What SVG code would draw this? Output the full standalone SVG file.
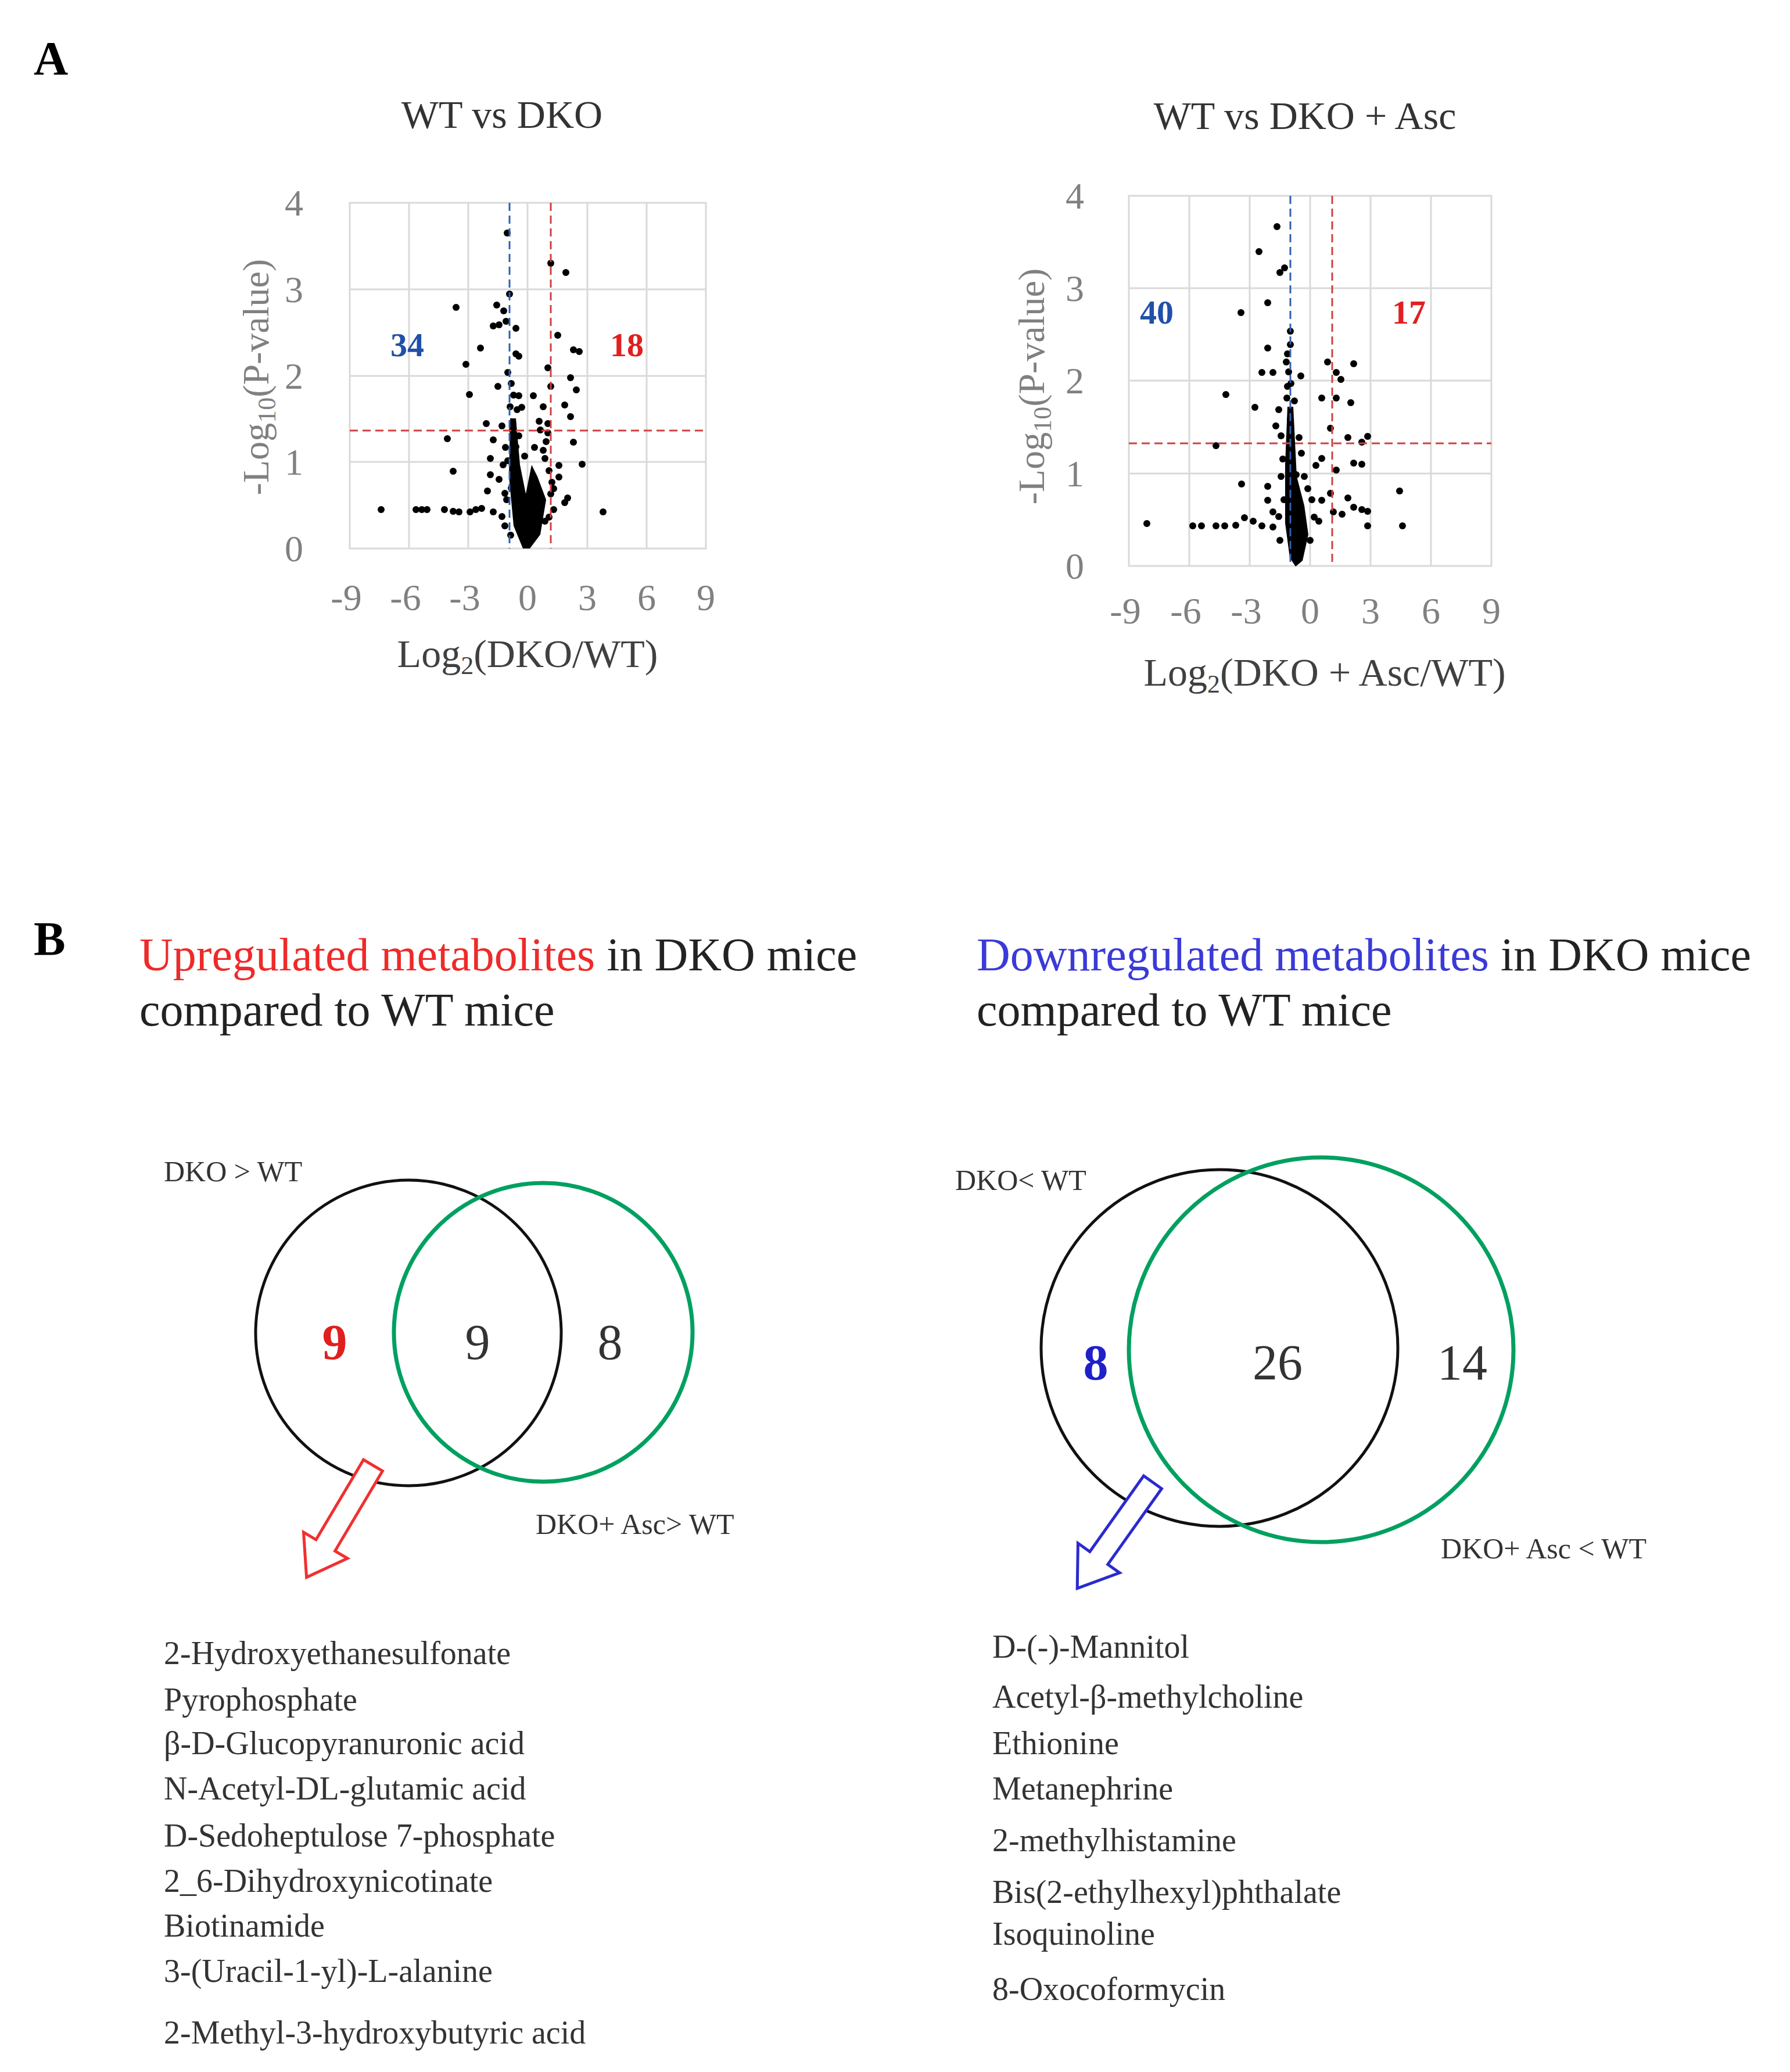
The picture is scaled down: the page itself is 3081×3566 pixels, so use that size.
<svg xmlns="http://www.w3.org/2000/svg" width="3081" height="3566" viewBox="0 0 3081 3566">
<style>
text{font-family:"Liberation Serif","Times New Roman",serif;}
.lab{font-weight:bold;font-size:82px;fill:#000}
.ttl{font-size:68px;fill:#333}
.tick{font-size:64px;fill:#808080}
.ytl{font-size:64px;fill:#808080}
.xtl{font-size:68px;fill:#404040}
.grid{stroke:#d9d9d9;stroke-width:3;fill:none}
.dash-b{stroke:#3060b0;stroke-width:3;stroke-dasharray:14 8}
.dash-r{stroke:#d04040;stroke-width:3;stroke-dasharray:14 8}
.pt{fill:#000}
.cnt{font-weight:bold;font-size:58px}
.head{font-size:80px;fill:#222}
.vl{font-size:50px;fill:#333}
.vn{font-size:86px;fill:#333}
.vn.red{fill:#e02020;font-weight:bold}
.vn.blue{fill:#2020c8;font-weight:bold}
.li{font-size:56px;fill:#333}
</style>
<defs><circle id="d" r="6"/></defs>
<rect width="3081" height="3566" fill="#fff"/>
<text class="lab" x="58" y="128">A</text>
<text class="lab" x="58" y="1643">B</text>

<g id="plot1">
<text class="ttl" x="864" y="220" text-anchor="middle">WT vs DKO</text>
<g class="grid">
<rect x="602" y="349" width="613" height="595"/>
<path d="M704,349V944M806,349V944M908,349V944M1011,349V944M1113,349V944M602,498H1215M602,647H1215M602,795H1215"/>
</g>
<g class="tick" text-anchor="end">
<text x="522" y="371">4</text><text x="522" y="520">3</text><text x="522" y="669">2</text><text x="522" y="817">1</text><text x="522" y="966">0</text>
</g>
<g class="tick" text-anchor="middle">
<text x="596" y="1050">-9</text><text x="698" y="1050">-6</text><text x="800" y="1050">-3</text><text x="908" y="1050">0</text><text x="1011" y="1050">3</text><text x="1113" y="1050">6</text><text x="1215" y="1050">9</text>
</g>
<text class="xtl" x="908" y="1148" text-anchor="middle">Log<tspan font-size="44" dy="12">2</tspan><tspan dy="-12">(DKO/WT)</tspan></text>
<text class="ytl" transform="translate(462,649) rotate(-90)" text-anchor="middle">-Log<tspan font-size="44" dy="12">10</tspan><tspan dy="-12">(P-value)</tspan></text>
<path class="pt" d="M878,720 L888,720 L895,800 L905,850 L915,800 L925,820 L940,860 L930,920 L912,944 L900,944 L884,905 L876,820 Z"/>
<g class="pt">
<use href="#d" x="873" y="401"/><use href="#d" x="948" y="453"/><use href="#d" x="974" y="469"/><use href="#d" x="785" y="529"/><use href="#d" x="877" y="506"/><use href="#d" x="855" y="525"/><use href="#d" x="867" y="535"/><use href="#d" x="871" y="553"/><use href="#d" x="849" y="561"/><use href="#d" x="859" y="559"/><use href="#d" x="888" y="565"/><use href="#d" x="960" y="577"/><use href="#d" x="827" y="599"/><use href="#d" x="888" y="609"/><use href="#d" x="987" y="602"/><use href="#d" x="997" y="605"/><use href="#d" x="802" y="627"/><use href="#d" x="893" y="613"/><use href="#d" x="943" y="633"/><use href="#d" x="874" y="641"/><use href="#d" x="982" y="650"/><use href="#d" x="948" y="665"/><use href="#d" x="808" y="679"/><use href="#d" x="857" y="665"/><use href="#d" x="893" y="681"/><use href="#d" x="918" y="681"/><use href="#d" x="992" y="671"/><use href="#d" x="898" y="701"/><use href="#d" x="972" y="697"/><use href="#d" x="982" y="717"/><use href="#d" x="837" y="729"/><use href="#d" x="864" y="733"/><use href="#d" x="928" y="725"/><use href="#d" x="943" y="729"/><use href="#d" x="770" y="755"/><use href="#d" x="849" y="757"/><use href="#d" x="943" y="745"/><use href="#d" x="888" y="769"/><use href="#d" x="987" y="761"/><use href="#d" x="844" y="789"/><use href="#d" x="874" y="793"/><use href="#d" x="938" y="789"/><use href="#d" x="962" y="801"/><use href="#d" x="1002" y="799"/><use href="#d" x="780" y="811"/><use href="#d" x="844" y="817"/><use href="#d" x="859" y="825"/><use href="#d" x="962" y="821"/><use href="#d" x="839" y="845"/><use href="#d" x="869" y="849"/><use href="#d" x="953" y="841"/><use href="#d" x="977" y="857"/><use href="#d" x="972" y="865"/><use href="#d" x="656" y="877"/><use href="#d" x="716" y="877"/><use href="#d" x="726" y="877"/><use href="#d" x="735" y="877"/><use href="#d" x="765" y="877"/><use href="#d" x="780" y="880"/><use href="#d" x="790" y="881"/><use href="#d" x="809" y="881"/><use href="#d" x="819" y="877"/><use href="#d" x="829" y="875"/><use href="#d" x="849" y="881"/><use href="#d" x="864" y="889"/><use href="#d" x="953" y="877"/><use href="#d" x="1038" y="881"/><use href="#d" x="869" y="905"/><use href="#d" x="879" y="921"/><use href="#d" x="923" y="913"/><use href="#d" x="938" y="897"/>
<use href="#d" x="880" y="660"/><use href="#d" x="884" y="680"/><use href="#d" x="878" y="700"/><use href="#d" x="890" y="705"/><use href="#d" x="882" y="740"/><use href="#d" x="893" y="750"/><use href="#d" x="870" y="770"/><use href="#d" x="903" y="785"/><use href="#d" x="866" y="800"/><use href="#d" x="935" y="700"/><use href="#d" x="940" y="760"/><use href="#d" x="935" y="775"/><use href="#d" x="945" y="810"/><use href="#d" x="930" y="740"/><use href="#d" x="920" y="770"/><use href="#d" x="950" y="830"/><use href="#d" x="872" y="860"/><use href="#d" x="880" y="840"/><use href="#d" x="948" y="850"/><use href="#d" x="945" y="890"/>
</g>
<line class="dash-b" x1="877" y1="349" x2="877" y2="944"/>
<line class="dash-r" x1="948" y1="349" x2="948" y2="944"/>
<line class="dash-r" x1="602" y1="741" x2="1215" y2="741"/>
<text class="cnt" x="701" y="613" fill="#2050a8" text-anchor="middle">34</text>
<text class="cnt" x="1079" y="613" fill="#e02020" text-anchor="middle">18</text>
</g>

<g id="plot2">
<text class="ttl" x="2246" y="222" text-anchor="middle">WT vs DKO + Asc</text>
<g class="grid">
<rect x="1943" y="337" width="624" height="637"/>
<path d="M2047,337V974M2151,337V974M2255,337V974M2359,337V974M2463,337V974M1943,496H2567M1943,655H2567M1943,815H2567"/>
</g>
<g class="tick" text-anchor="end">
<text x="1866" y="359">4</text><text x="1866" y="518">3</text><text x="1866" y="677">2</text><text x="1866" y="837">1</text><text x="1866" y="996">0</text>
</g>
<g class="tick" text-anchor="middle">
<text x="1937" y="1073">-9</text><text x="2041" y="1073">-6</text><text x="2145" y="1073">-3</text><text x="2255" y="1073">0</text><text x="2359" y="1073">3</text><text x="2463" y="1073">6</text><text x="2567" y="1073">9</text>
</g>
<text class="xtl" x="2280" y="1180" text-anchor="middle">Log<tspan font-size="44" dy="12">2</tspan><tspan dy="-12">(DKO + Asc/WT)</tspan></text>
<text class="ytl" transform="translate(1797,665) rotate(-90)" text-anchor="middle">-Log<tspan font-size="44" dy="12">10</tspan><tspan dy="-12">(P-value)</tspan></text>
<path class="pt" d="M2216,700 L2226,700 L2232,820 L2245,870 L2252,920 L2242,965 L2230,975 L2220,960 L2212,900 L2212,800 Z"/>
<g class="pt">
<use href="#d" x="2198" y="390"/><use href="#d" x="2167" y="433"/><use href="#d" x="2211" y="461"/><use href="#d" x="2203" y="469"/><use href="#d" x="2221" y="570"/><use href="#d" x="2182" y="521"/><use href="#d" x="2136" y="538"/><use href="#d" x="2221" y="593"/><use href="#d" x="2216" y="609"/><use href="#d" x="2182" y="599"/><use href="#d" x="2214" y="623"/><use href="#d" x="2172" y="641"/><use href="#d" x="2191" y="641"/><use href="#d" x="2239" y="647"/><use href="#d" x="2285" y="623"/><use href="#d" x="2300" y="641"/><use href="#d" x="2330" y="626"/><use href="#d" x="2308" y="653"/><use href="#d" x="2110" y="679"/><use href="#d" x="2216" y="665"/><use href="#d" x="2275" y="685"/><use href="#d" x="2300" y="685"/><use href="#d" x="2325" y="693"/><use href="#d" x="2160" y="701"/><use href="#d" x="2201" y="705"/><use href="#d" x="2221" y="721"/><use href="#d" x="2196" y="733"/><use href="#d" x="2236" y="753"/><use href="#d" x="2290" y="737"/><use href="#d" x="2320" y="753"/><use href="#d" x="2344" y="761"/><use href="#d" x="2354" y="751"/><use href="#d" x="2093" y="767"/><use href="#d" x="2221" y="769"/><use href="#d" x="2275" y="789"/><use href="#d" x="2265" y="801"/><use href="#d" x="2330" y="797"/><use href="#d" x="2344" y="799"/><use href="#d" x="2300" y="809"/><use href="#d" x="2137" y="833"/><use href="#d" x="2182" y="837"/><use href="#d" x="2231" y="817"/><use href="#d" x="2251" y="841"/><use href="#d" x="2290" y="849"/><use href="#d" x="2320" y="857"/><use href="#d" x="2409" y="845"/><use href="#d" x="2182" y="861"/><use href="#d" x="2221" y="873"/><use href="#d" x="2275" y="861"/><use href="#d" x="2330" y="873"/><use href="#d" x="2344" y="877"/><use href="#d" x="2354" y="880"/><use href="#d" x="1974" y="901"/><use href="#d" x="2053" y="905"/><use href="#d" x="2068" y="905"/><use href="#d" x="2093" y="905"/><use href="#d" x="2108" y="905"/><use href="#d" x="2127" y="904"/><use href="#d" x="2142" y="891"/><use href="#d" x="2157" y="897"/><use href="#d" x="2172" y="905"/><use href="#d" x="2191" y="907"/><use href="#d" x="2231" y="905"/><use href="#d" x="2270" y="897"/><use href="#d" x="2295" y="881"/><use href="#d" x="2310" y="885"/><use href="#d" x="2354" y="905"/><use href="#d" x="2414" y="905"/><use href="#d" x="2201" y="889"/><use href="#d" x="2191" y="881"/>
<use href="#d" x="2218" y="640"/><use href="#d" x="2222" y="660"/><use href="#d" x="2215" y="685"/><use href="#d" x="2228" y="690"/><use href="#d" x="2205" y="750"/><use href="#d" x="2208" y="790"/><use href="#d" x="2240" y="780"/><use href="#d" x="2245" y="820"/><use href="#d" x="2258" y="860"/><use href="#d" x="2262" y="890"/><use href="#d" x="2205" y="820"/><use href="#d" x="2210" y="860"/><use href="#d" x="2255" y="930"/><use href="#d" x="2203" y="930"/>
</g>
<line class="dash-b" x1="2221" y1="337" x2="2221" y2="974"/>
<line class="dash-r" x1="2293" y1="337" x2="2293" y2="974"/>
<line class="dash-r" x1="1943" y1="763" x2="2567" y2="763"/>
<text class="cnt" x="1991" y="557" fill="#2050a8" text-anchor="middle">40</text>
<text class="cnt" x="2425" y="557" fill="#e02020" text-anchor="middle">17</text>
</g>

<g id="heading-up">
<text class="head" x="240" y="1670"><tspan fill="#ee2a2a">Upregulated  metabolites</tspan> in DKO mice</text>
<text class="head" x="240" y="1765">compared to WT mice</text>
</g>
<g id="heading-down">
<text class="head" x="1681" y="1670"><tspan fill="#3a3ad8">Downregulated  metabolites</tspan> in DKO mice</text>
<text class="head" x="1681" y="1765">compared to WT mice</text>
</g>

<g id="venn-up">
<circle cx="703" cy="2294" r="263" fill="none" stroke="#111" stroke-width="5"/>
<circle cx="935" cy="2293" r="257" fill="none" stroke="#00a060" stroke-width="7"/>
<text class="vl" x="282" y="2033">DKO &gt;  WT</text>
<text class="vl" x="922" y="2640">DKO+ Asc&gt;  WT</text>
<text class="vn red" x="576" y="2339" text-anchor="middle">9</text>
<text class="vn" x="822" y="2339" text-anchor="middle">9</text>
<text class="vn" x="1050" y="2339" text-anchor="middle">8</text>
</g>
<g id="venn-down">
<circle cx="2099" cy="2320" r="307" fill="none" stroke="#111" stroke-width="5"/>
<circle cx="2274" cy="2323" r="331" fill="none" stroke="#00a060" stroke-width="7"/>
<text class="vl" x="1644" y="2048">DKO&lt; WT</text>
<text class="vl" x="2480" y="2682">DKO+ Asc  &lt;  WT</text>
<text class="vn blue" x="1886" y="2374" text-anchor="middle">8</text>
<text class="vn" x="2199" y="2374" text-anchor="middle">26</text>
<text class="vn" x="2517" y="2374" text-anchor="middle">14</text>
</g>

<g id="connectors">
<polygon transform="translate(642,2522) rotate(120.7)" points="0,-19 160,-19 160,-44 224,0 160,44 160,19 0,19" fill="#fff" stroke="#f03030" stroke-width="5"/>
<polygon transform="translate(1984,2551) rotate(125.4)" points="0,-19 160,-19 160,-44 224,0 160,44 160,19 0,19" fill="#fff" stroke="#2a2ad0" stroke-width="5"/>
</g>

<g id="list-up">
<text class="li" x="282" y="2864">2-Hydroxyethanesulfonate</text>
<text class="li" x="282" y="2944">Pyrophosphate</text>
<text class="li" x="282" y="3019">β-D-Glucopyranuronic  acid</text>
<text class="li" x="282" y="3097">N-Acetyl-DL-glutamic   acid</text>
<text class="li" x="282" y="3178">D-Sedoheptulose 7-phosphate</text>
<text class="li" x="282" y="3256">2_6-Dihydroxynicotinate</text>
<text class="li" x="282" y="3333">Biotinamide</text>
<text class="li" x="282" y="3411">3-(Uracil-1-yl)-L-alanine</text>
<text class="li" x="282" y="3517">2-Methyl-3-hydroxybutyric  acid</text>
</g>
<g id="list-down">
<text class="li" x="1708" y="2853">D-(-)-Mannitol</text>
<text class="li" x="1708" y="2939">Acetyl-β-methylcholine</text>
<text class="li" x="1708" y="3019">Ethionine</text>
<text class="li" x="1708" y="3097">Metanephrine</text>
<text class="li" x="1708" y="3186">2-methylhistamine</text>
<text class="li" x="1708" y="3275">Bis(2-ethylhexyl)phthalate</text>
<text class="li" x="1708" y="3347">Isoquinoline</text>
<text class="li" x="1708" y="3442">8-Oxocoformycin</text>
</g>
</svg>
